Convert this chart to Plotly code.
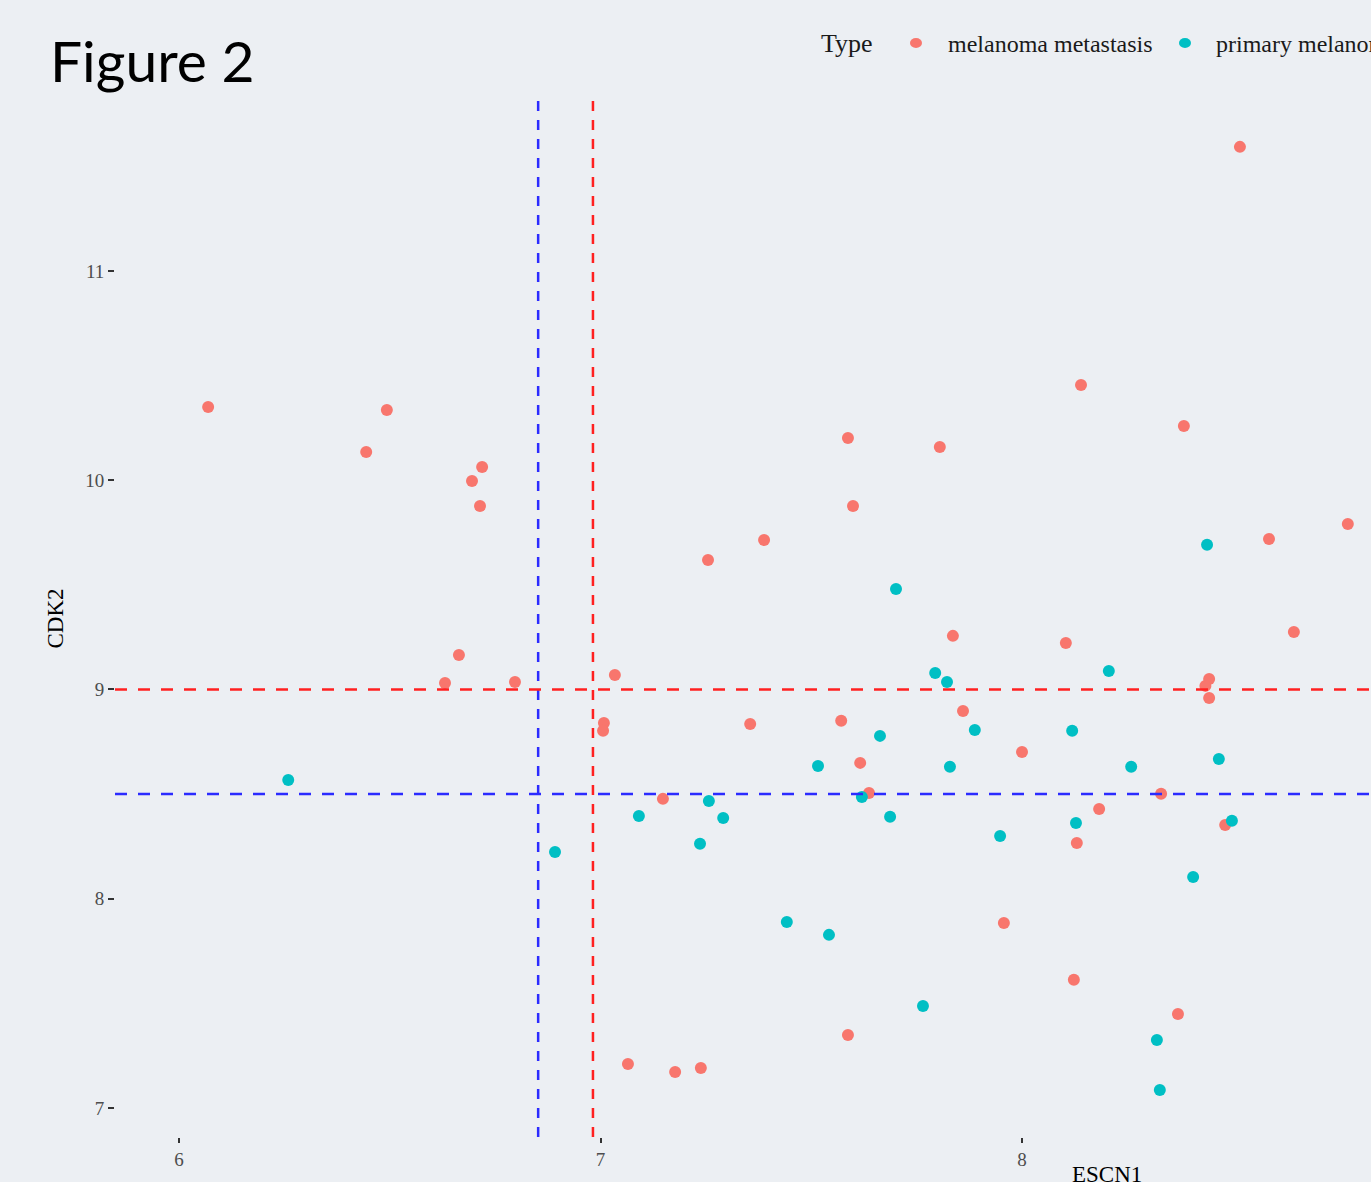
import plotly.graph_objects as go

# CDK2 vs ESCN1 expression by sample type
meta_escn1 = [6.069, 6.493, 6.444, 6.719, 6.695, 6.714, 6.664, 6.631, 6.797, 7.034,
              7.008, 7.006, 7.148, 7.255, 7.388, 7.355, 7.065, 7.177, 7.238, 7.587,
              7.599, 7.805, 7.571, 7.616, 7.637, 7.587, 7.836, 7.860, 8.000, 7.957,
              8.140, 8.104, 8.183, 8.130, 8.123, 8.384, 8.330, 8.370, 8.517, 8.586,
              8.444, 8.435, 8.444, 8.482, 8.645, 8.773]
meta_cdk2 = [10.350, 10.336, 10.135, 10.063, 9.996, 9.877, 9.165, 9.031, 9.036, 9.069,
             8.840, 8.802, 8.477, 9.619, 9.714, 8.835, 7.210, 7.172, 7.191, 10.202,
             9.877, 10.159, 8.850, 8.649, 8.505, 7.349, 9.256, 8.897, 8.701, 7.884,
             10.455, 9.222, 8.429, 8.266, 7.612, 10.259, 8.501, 7.449, 11.593, 9.719,
             9.050, 9.017, 8.959, 8.352, 9.275, 9.791]

prim_escn1 = [6.259, 6.892, 7.091, 7.257, 7.236, 7.291, 7.442, 7.542, 7.516, 7.663,
              7.620, 7.687, 7.701, 7.794, 7.822, 7.888, 7.829, 7.948, 7.765, 8.119,
              8.206, 8.259, 8.128, 8.439, 8.467, 8.498, 8.406, 8.320, 8.327]
prim_cdk2 = [8.567, 8.223, 8.395, 8.467, 8.262, 8.386, 7.889, 7.827, 8.634, 8.778,
             8.486, 8.391, 9.480, 9.079, 9.036, 8.806, 8.630, 8.300, 7.487, 8.802,
             9.088, 8.630, 8.362, 9.691, 8.668, 8.372, 8.104, 7.325, 7.086]

# cut-off lines
escn1_cuts = [6.852, 6.982]
cdk2_cuts = [9.0, 8.5]
cut_colors = ["#2B2BFF", "#FF2020"]
hcut_colors = ["#FF2020", "#2B2BFF"]

type_names = ["melanoma metastasis", "primary melanoma"]
type_colors = ["#F8766D", "#00BFC4"]

x_ticks = [6, 7, 8]
y_ticks = [7, 8, 9, 10, 11]

BG = "#ECEFF3"
SERIF = "Liberation Serif"

fig = go.Figure()
for name, xs, ys, col in [(type_names[0], meta_escn1, meta_cdk2, type_colors[0]),
                          (type_names[1], prim_escn1, prim_cdk2, type_colors[1])]:
    fig.add_trace(go.Scatter(x=xs, y=ys, mode="markers", name=name,
                             marker=dict(color=col, size=12, line=dict(width=0)),
                             showlegend=False))

for xv, col in zip(escn1_cuts, cut_colors):
    fig.add_shape(type="line", xref="x", yref="paper", x0=xv, x1=xv, y0=0, y1=1,
                  line=dict(color=col, width=2.5, dash="10px,9px"), layer="above")
for yv, col in zip(cdk2_cuts, hcut_colors):
    fig.add_shape(type="line", xref="paper", yref="y", x0=0, x1=1, y0=yv, y1=yv,
                  line=dict(color=col, width=2.5, dash="12px,11px"), layer="above")

W, H = 1371, 1182
L, R, T, B = 115, 0, 100, 45
pw, ph = W - L - R, H - T - B


def px_x(p):
    return (p - L) / pw


def px_y(p):
    return (H - B - p) / ph


# legend drawn along the top
fig.add_annotation(text="Type", xref="paper", yref="paper", x=px_x(819), y=px_y(44),
                   xanchor="left", yanchor="middle", showarrow=False,
                   font=dict(family=SERIF, size=26, color="#1a1a1a"))
for cx, tx, name, col in [(916, 946, type_names[0], type_colors[0]),
                          (1185, 1214, type_names[1], type_colors[1])]:
    fig.add_shape(type="circle", xref="paper", yref="paper",
                  xsizemode="pixel", ysizemode="pixel",
                  xanchor=px_x(cx), yanchor=px_y(43),
                  x0=-6, x1=6, y0=-5, y1=5,
                  fillcolor=col, line=dict(width=0))
    fig.add_annotation(text=name, xref="paper", yref="paper", x=px_x(tx), y=px_y(44),
                       xanchor="left", yanchor="middle", showarrow=False,
                       font=dict(family=SERIF, size=24, color="#1a1a1a"))

fig.add_annotation(text="Figure 2", xref="paper", yref="paper", x=px_x(48), y=px_y(60),
                   xanchor="left", yanchor="middle", showarrow=False,
                   font=dict(family="Lato", size=57, color="black"))

fig.add_annotation(text="CDK2", xref="paper", yref="paper", x=px_x(55), y=0.5,
                   xanchor="center", yanchor="middle", textangle=-90, showarrow=False,
                   font=dict(family=SERIF, size=23, color="black"))
fig.add_annotation(text="ESCN1", xref="paper", yref="paper", x=px_x(1107), y=px_y(1160),
                   xanchor="center", yanchor="top", showarrow=False,
                   font=dict(family=SERIF, size=23, color="black"))

fig.update_layout(
    width=W, height=H,
    margin=dict(l=L, r=R, t=T, b=B),
    paper_bgcolor=BG, plot_bgcolor=BG,
    xaxis=dict(range=[5.848, 8.828], tickvals=x_ticks, showgrid=False, zeroline=False,
               ticks="outside", ticklen=5, tickwidth=1.5, tickcolor="#333333",
               tickfont=dict(family=SERIF, size=19, color="#4D4D4D")),
    yaxis=dict(range=[6.861, 11.817], tickvals=y_ticks, showgrid=False, zeroline=False,
               ticks="outside", ticklen=6, tickwidth=1.5, tickcolor="#333333",
               tickfont=dict(family=SERIF, size=19, color="#4D4D4D")),
)

fig.write_html("out.html")
